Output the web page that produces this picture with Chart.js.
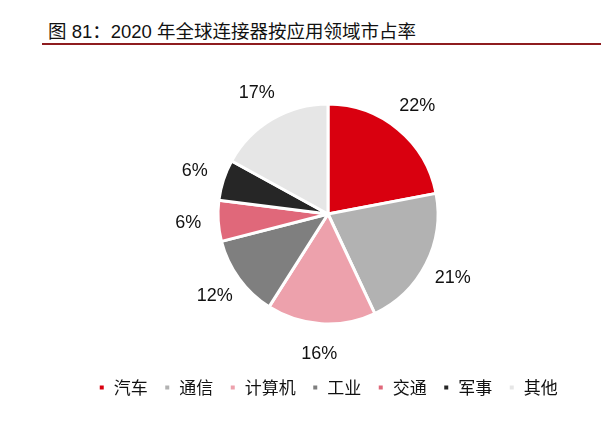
<!DOCTYPE html>
<html>
<head>
<meta charset="utf-8">
<script src="https://cdn.jsdelivr.net/npm/chart.js@4"></script>
<style>
    body { margin: 0; background: #fff; }
    #wrap { position: relative; width: 601px; height: 426px; }
    #title {
        position: absolute; left: 42px; top: 21px; width: 553px;
        font-family: 'Liberation Sans', 'Noto Sans CJK SC', sans-serif;
        font-size: 18.5px; color: #111; padding-left: 6px;
        border-bottom: 2px solid #8e1c1f; padding-bottom: 1px; line-height: 21px;
    }
    canvas { position: absolute; left: 0; top: 0; }
</style>
</head>
<body>
<div id="wrap">
    <div id="title">图 81：2020 年全球连接器按应用领域市占率</div>
    <canvas id="pie" width="601" height="426"></canvas>
</div>
<script>
let categories = [ '汽车', '通信', '计算机', '工业', '交通', '军事', '其他' ];
let shares     = [ 22, 21, 16, 12, 6, 6, 17 ];
let colors     = [ '#d9000f', '#b2b2b2', '#eda1ac', '#7f7f7f', '#e0687a', '#262626', '#e6e6e6' ];

let percentLabels = {
    id : 'percentLabels',
    afterDatasetsDraw : ( chart ) => {
        let ctx = chart.ctx;
        let meta = chart.getDatasetMeta( 0 );
        ctx.save();
        ctx.font = '18px "Liberation Sans", Arial, sans-serif';
        ctx.fillStyle = '#111';
        ctx.textAlign = 'center';
        ctx.textBaseline = 'middle';
        meta.data.forEach( ( arc, i ) => {
            let mid = ( arc.startAngle + arc.endAngle ) / 2;
            let r   = arc.outerRadius + 30;
            ctx.fillText( shares[i] + '%', arc.x + Math.cos( mid ) * r, arc.y + Math.sin( mid ) * r );
        } );
        ctx.restore();
    }
};

let ctx = document.getElementById( 'pie' ).getContext( '2d' );
let chart = new Chart( ctx, {
    type : 'pie',
    data : {
        labels : categories,
        datasets : [{
            data : shares,
            backgroundColor : colors,
            borderColor : '#fff',
            borderWidth : 3
        }]
    },
    options : {
        responsive : false,
        animation : false,
        radius : 110,
        layout : { padding : { top : 65, bottom : 20, left : 55, right : 0 } },
        plugins : {
            legend : {
                position : 'bottom',
                labels : {
                    boxWidth : 7,
                    boxHeight : 7,
                    padding : 16,
                    color : '#111',
                    font : { size : 17, family : '"Noto Sans CJK SC", sans-serif' }
                }
            },
            tooltip : { enabled : false }
        }
    },
    plugins : [ percentLabels ]
} );
</script>
</body>
</html>
